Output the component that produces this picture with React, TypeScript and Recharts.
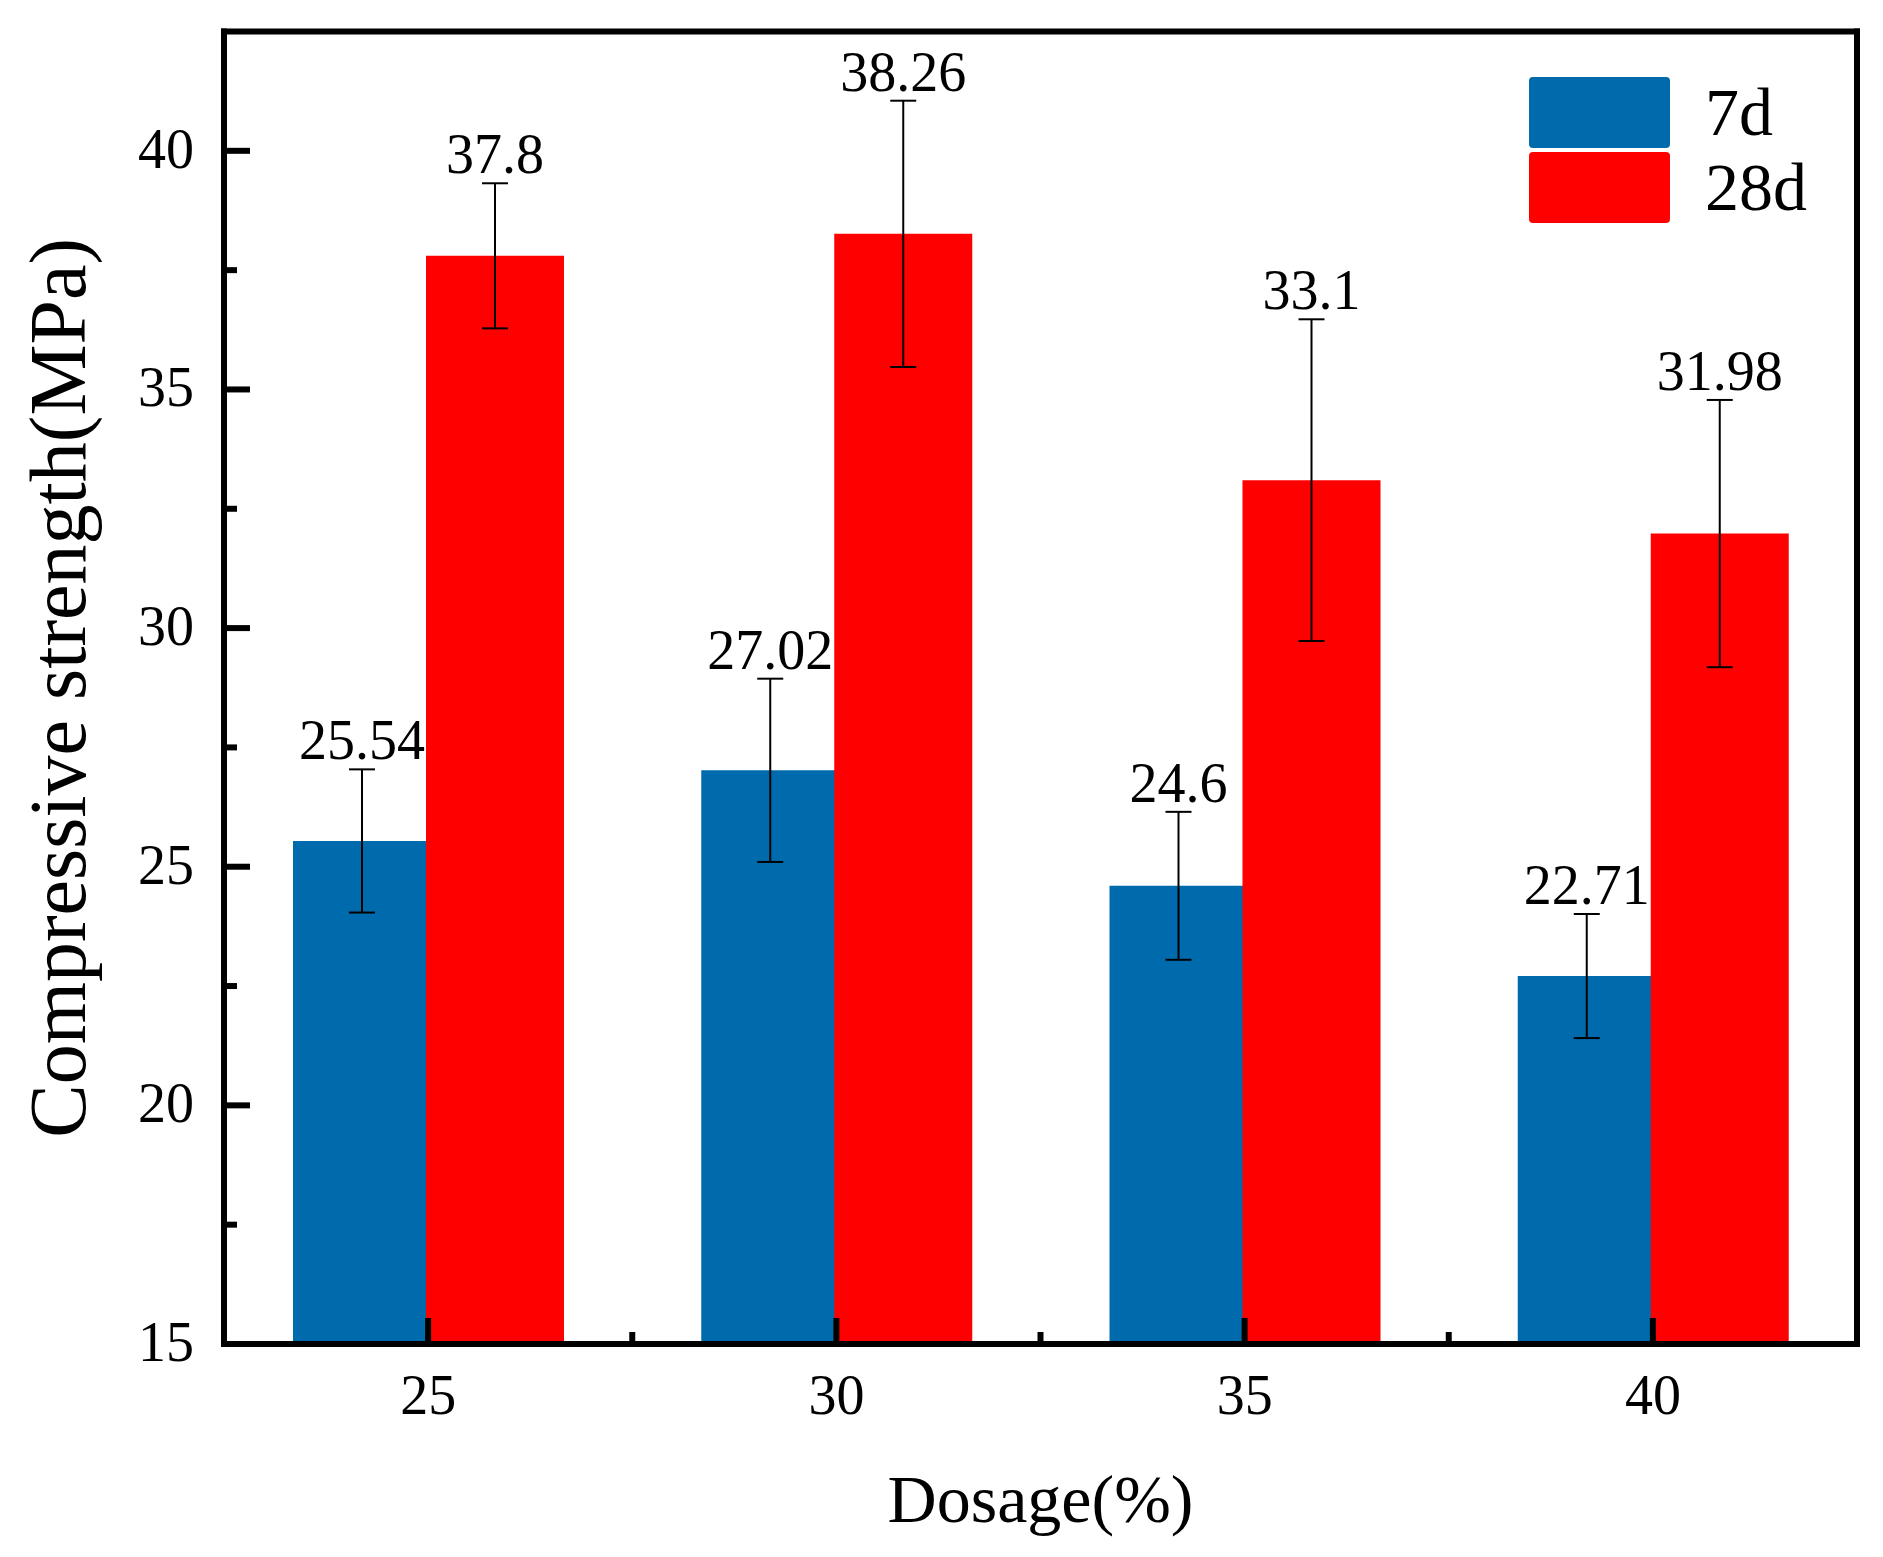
import { BarChart, Bar, XAxis, YAxis, Legend, ErrorBar, LabelList, Label } from 'recharts';

const dosages = ['25', '30', '35', '40'];
const seriesNames = ['7d', '28d'];
const strength7d = [25.54, 27.02, 24.6, 22.71];
const strength28d = [37.8, 38.26, 33.1, 31.98];
const error7d = [1.5, 1.92, 1.55, 1.3];
const error28d = [1.52, 2.79, 3.37, 2.8];
const yTicks = [15, 17.5, 20, 22.5, 25, 27.5, 30, 32.5, 35, 37.5, 40];

const data = dosages.map((d, i) => ({
  dosage: d,
  s7: strength7d[i],
  s28: strength28d[i],
  e7: error7d[i],
  e28: error28d[i],
}));

const W = 1883;
const H = 1557;
const PLOT_LEFT = 224;
const PLOT_RIGHT = 1857;
const PLOT_TOP = 31.5;
const PLOT_BOTTOM = 1344;
const BAND = (PLOT_RIGHT - PLOT_LEFT) / dosages.length;
const FONT = '"Liberation Serif", "Times New Roman", serif';
const BLUE = '#006BAC';
const RED = '#FF0000';
const AXIS = { stroke: '#000', strokeWidth: 6, strokeLinecap: 'square' as const };

function XTick(props: any) {
  const { x, y, payload, index } = props;
  return (
    <g>
      <line x1={x} x2={x} y1={y} y2={y - 26} stroke="#000" strokeWidth={6} />
      {index < dosages.length - 1 && (
        <line x1={x + BAND / 2} x2={x + BAND / 2} y1={y} y2={y - 12} stroke="#000" strokeWidth={6} />
      )}
      <text x={x} y={y + 70} textAnchor="middle" fontSize={56} fontFamily={FONT} fill="#000">
        {payload.value}
      </text>
    </g>
  );
}

function YTick(props: any) {
  const { x, y, payload } = props;
  const major = payload.value % 5 === 0;
  return (
    <g>
      <line x1={x} x2={x + (major ? 26 : 13)} y1={y} y2={y} stroke="#000" strokeWidth={6} />
      {major && (
        <text x={x - 30} y={y + 17} textAnchor="end" fontSize={56} fontFamily={FONT} fill="#000">
          {payload.value}
        </text>
      )}
    </g>
  );
}

// value label sits above the error bar cap
function valueLabel(errors: number[]) {
  return (props: any) => {
    const vb = props.viewBox ?? props;
    const { x, y, width, height } = vb;
    const v = Number(props.value);
    const errPx = (errors[props.index] * height) / (v - 15);
    return (
      <text
        x={x + width / 2}
        y={y - errPx - 10}
        textAnchor="middle"
        fontSize={56}
        fontFamily={FONT}
        fill="#000"
      >
        {String(v)}
      </text>
    );
  };
}

function LegendBox(props: any) {
  const items = [...(props.payload || [])].sort(
    (a: any, b: any) => seriesNames.indexOf(a.value) - seriesNames.indexOf(b.value)
  );
  return (
    <div style={{ fontFamily: FONT }}>
      {items.map((p: any) => (
        <div key={p.value} style={{ display: 'flex', alignItems: 'center', height: 71, marginBottom: 4 }}>
          <div style={{ width: 141, height: 71, background: p.color, borderRadius: 4 }} />
          <span style={{ marginLeft: 35, fontSize: 68, lineHeight: '71px', color: '#000' }}>{p.value}</span>
        </div>
      ))}
    </div>
  );
}

export default function App() {
  return (
    <div style={{ position: 'absolute', left: 0, top: 0, width: W, height: H, background: '#fff' }}>
      <BarChart
        width={W}
        height={H}
        data={data}
        margin={{ top: PLOT_TOP - 1, right: W - PLOT_RIGHT - 1, bottom: 0, left: 0 }}
        barSize={138}
        barGap={-5}
        style={{ fontFamily: FONT }}
      >
        <Legend
          layout="horizontal"
          verticalAlign="middle"
          align="center"
          content={LegendBox}
          wrapperStyle={{ top: 77, left: 1529, width: 320 }}
        />
        <Bar dataKey="s7" name={seriesNames[0]} fill={BLUE} isAnimationActive={false}>
          <ErrorBar dataKey="e7" width={13} stroke="#000" strokeWidth={2} direction="y" />
          <LabelList dataKey="s7" content={valueLabel(error7d)} />
        </Bar>
        <Bar dataKey="s28" name={seriesNames[1]} fill={RED} isAnimationActive={false}>
          <ErrorBar dataKey="e28" width={13} stroke="#000" strokeWidth={2} direction="y" />
          <LabelList dataKey="s28" content={valueLabel(error28d)} />
        </Bar>
        <XAxis
          dataKey="dosage"
          height={H - PLOT_BOTTOM}
          axisLine={AXIS}
          tickLine={false}
          tickSize={0}
          tickMargin={0}
          tick={XTick}
          interval={0}
        >
          <Label
            content={(p: any) => {
              const vb = p.viewBox;
              return (
                <text x={vb.x + vb.width / 2} y={vb.y + 178} textAnchor="middle" fontSize={68} fontFamily={FONT} fill="#000">
                  Dosage(%)
                </text>
              );
            }}
          />
        </XAxis>
        <XAxis xAxisId="top" orientation="top" dataKey="dosage" height={1} axisLine={AXIS} tick={false} tickLine={false} />
        <YAxis
          width={PLOT_LEFT}
          domain={[15, 42.5]}
          ticks={yTicks}
          interval={0}
          axisLine={AXIS}
          tickLine={false}
          tickSize={0}
          tickMargin={0}
          tick={YTick}
        >
          <Label
            content={(p: any) => {
              const vb = p.viewBox;
              const cx = vb.x + 85;
              const cy = vb.y + vb.height / 2;
              return (
                <text x={cx} y={cy} transform={`rotate(-90, ${cx}, ${cy})`} textAnchor="middle" fontSize={80} fontFamily={FONT} fill="#000">
                  Compressive strength(MPa)
                </text>
              );
            }}
          />
        </YAxis>
        <YAxis yAxisId="right" orientation="right" width={1} domain={[15, 42.5]} axisLine={AXIS} tick={false} tickLine={false} />
      </BarChart>
    </div>
  );
}
